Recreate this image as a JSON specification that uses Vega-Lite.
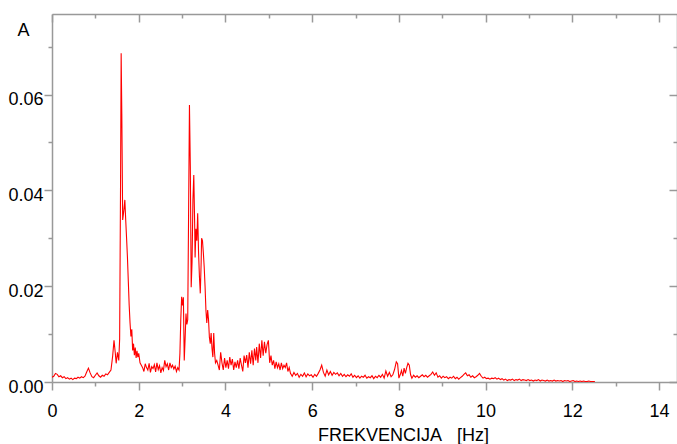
{
  "$schema": "https://vega.github.io/schema/vega-lite/v6.json",
  "autosize": "none",
  "width": 625,
  "height": 368,
  "padding": {"left": 52, "top": 14, "right": 0, "bottom": 62},
  "background": "white",
  "config": {"view": {"stroke": null}, "font": "Liberation Sans"},
  "data": {"values": [
    {"f":0.00,"a":0.0010},{"f":0.04,"a":0.0012},{"f":0.08,"a":0.0018},{"f":0.12,"a":0.0016},{"f":0.16,"a":0.0011},{"f":0.20,"a":0.0013},{"f":0.24,"a":0.0009},{"f":0.28,"a":0.0011},{"f":0.32,"a":0.0007},{"f":0.36,"a":0.0009},{"f":0.40,"a":0.0006},{"f":0.44,"a":0.0008},{"f":0.48,"a":0.0005},{"f":0.52,"a":0.0008},{"f":0.56,"a":0.0007},{"f":0.60,"a":0.0010},{"f":0.64,"a":0.0008},{"f":0.68,"a":0.0011},{"f":0.72,"a":0.0009},{"f":0.76,"a":0.0012},{"f":0.80,"a":0.0021},{"f":0.84,"a":0.0029},{"f":0.88,"a":0.0019},{"f":0.92,"a":0.0011},{"f":0.96,"a":0.0009},{"f":1.00,"a":0.0014},{"f":1.04,"a":0.0019},{"f":1.08,"a":0.0013},{"f":1.12,"a":0.0010},{"f":1.16,"a":0.0014},{"f":1.20,"a":0.0012},{"f":1.24,"a":0.0017},{"f":1.28,"a":0.0015},{"f":1.32,"a":0.0020},{"f":1.36,"a":0.0025},{"f":1.40,"a":0.0055},{"f":1.43,"a":0.0087},{"f":1.46,"a":0.0060},{"f":1.48,"a":0.0039},{"f":1.51,"a":0.0062},{"f":1.54,"a":0.0045},{"f":1.56,"a":0.0090},{"f":1.58,"a":0.0400},{"f":1.595,"a":0.0686},{"f":1.61,"a":0.0560},{"f":1.63,"a":0.0338},{"f":1.66,"a":0.0360},{"f":1.68,"a":0.0380},{"f":1.70,"a":0.0338},{"f":1.72,"a":0.0300},{"f":1.74,"a":0.0260},{"f":1.76,"a":0.0210},{"f":1.78,"a":0.0160},{"f":1.80,"a":0.0123},{"f":1.82,"a":0.0095},{"f":1.84,"a":0.0110},{"f":1.86,"a":0.0066},{"f":1.88,"a":0.0080},{"f":1.90,"a":0.0056},{"f":1.92,"a":0.0072},{"f":1.94,"a":0.0050},{"f":1.96,"a":0.0065},{"f":1.98,"a":0.0052},{"f":2.00,"a":0.0060},{"f":2.03,"a":0.0040},{"f":2.06,"a":0.0035},{"f":2.09,"a":0.0030},{"f":2.12,"a":0.0022},{"f":2.15,"a":0.0038},{"f":2.18,"a":0.0030},{"f":2.21,"a":0.0025},{"f":2.24,"a":0.0039},{"f":2.27,"a":0.0020},{"f":2.30,"a":0.0032},{"f":2.33,"a":0.0028},{"f":2.36,"a":0.0036},{"f":2.39,"a":0.0021},{"f":2.42,"a":0.0040},{"f":2.45,"a":0.0026},{"f":2.48,"a":0.0034},{"f":2.51,"a":0.0019},{"f":2.54,"a":0.0030},{"f":2.57,"a":0.0024},{"f":2.60,"a":0.0045},{"f":2.63,"a":0.0032},{"f":2.66,"a":0.0038},{"f":2.69,"a":0.0025},{"f":2.72,"a":0.0040},{"f":2.75,"a":0.0030},{"f":2.78,"a":0.0035},{"f":2.81,"a":0.0027},{"f":2.84,"a":0.0033},{"f":2.87,"a":0.0022},{"f":2.90,"a":0.0030},{"f":2.93,"a":0.0025},{"f":2.95,"a":0.0060},{"f":2.97,"a":0.0130},{"f":2.99,"a":0.0178},{"f":3.01,"a":0.0160},{"f":3.03,"a":0.0177},{"f":3.05,"a":0.0045},{"f":3.07,"a":0.0090},{"f":3.09,"a":0.0143},{"f":3.11,"a":0.0120},{"f":3.13,"a":0.0130},{"f":3.15,"a":0.0350},{"f":3.17,"a":0.0578},{"f":3.19,"a":0.0450},{"f":3.21,"a":0.0198},{"f":3.23,"a":0.0250},{"f":3.25,"a":0.0380},{"f":3.27,"a":0.0432},{"f":3.29,"a":0.0330},{"f":3.30,"a":0.0260},{"f":3.32,"a":0.0320},{"f":3.34,"a":0.0295},{"f":3.36,"a":0.0352},{"f":3.38,"a":0.0270},{"f":3.40,"a":0.0220},{"f":3.42,"a":0.0185},{"f":3.44,"a":0.0250},{"f":3.45,"a":0.0300},{"f":3.47,"a":0.0295},{"f":3.49,"a":0.0270},{"f":3.51,"a":0.0240},{"f":3.53,"a":0.0200},{"f":3.55,"a":0.0150},{"f":3.57,"a":0.0123},{"f":3.59,"a":0.0150},{"f":3.61,"a":0.0130},{"f":3.63,"a":0.0093},{"f":3.65,"a":0.0080},{"f":3.67,"a":0.0102},{"f":3.69,"a":0.0070},{"f":3.71,"a":0.0052},{"f":3.73,"a":0.0102},{"f":3.75,"a":0.0060},{"f":3.77,"a":0.0040},{"f":3.80,"a":0.0045},{"f":3.83,"a":0.0035},{"f":3.86,"a":0.0025},{"f":3.89,"a":0.0062},{"f":3.92,"a":0.0040},{"f":3.95,"a":0.0025},{"f":3.98,"a":0.0050},{"f":4.01,"a":0.0030},{"f":4.04,"a":0.0045},{"f":4.07,"a":0.0028},{"f":4.10,"a":0.0052},{"f":4.13,"a":0.0035},{"f":4.16,"a":0.0048},{"f":4.19,"a":0.0025},{"f":4.22,"a":0.0042},{"f":4.25,"a":0.0030},{"f":4.28,"a":0.0045},{"f":4.31,"a":0.0028},{"f":4.34,"a":0.0050},{"f":4.37,"a":0.0035},{"f":4.40,"a":0.0022},{"f":4.43,"a":0.0055},{"f":4.46,"a":0.0040},{"f":4.49,"a":0.0056},{"f":4.52,"a":0.0030},{"f":4.55,"a":0.0062},{"f":4.58,"a":0.0038},{"f":4.61,"a":0.0066},{"f":4.64,"a":0.0035},{"f":4.67,"a":0.0070},{"f":4.70,"a":0.0045},{"f":4.72,"a":0.0073},{"f":4.75,"a":0.0040},{"f":4.78,"a":0.0080},{"f":4.81,"a":0.0050},{"f":4.84,"a":0.0087},{"f":4.87,"a":0.0055},{"f":4.90,"a":0.0084},{"f":4.93,"a":0.0060},{"f":4.96,"a":0.0078},{"f":4.99,"a":0.0087},{"f":5.02,"a":0.0040},{"f":5.05,"a":0.0055},{"f":5.08,"a":0.0035},{"f":5.11,"a":0.0045},{"f":5.14,"a":0.0028},{"f":5.17,"a":0.0042},{"f":5.20,"a":0.0030},{"f":5.23,"a":0.0038},{"f":5.26,"a":0.0025},{"f":5.29,"a":0.0040},{"f":5.32,"a":0.0028},{"f":5.35,"a":0.0035},{"f":5.38,"a":0.0030},{"f":5.41,"a":0.0040},{"f":5.44,"a":0.0022},{"f":5.47,"a":0.0030},{"f":5.50,"a":0.0018},{"f":5.54,"a":0.0012},{"f":5.58,"a":0.0020},{"f":5.62,"a":0.0014},{"f":5.66,"a":0.0018},{"f":5.70,"a":0.0010},{"f":5.74,"a":0.0016},{"f":5.78,"a":0.0012},{"f":5.82,"a":0.0019},{"f":5.86,"a":0.0011},{"f":5.90,"a":0.0017},{"f":5.94,"a":0.0013},{"f":5.98,"a":0.0015},{"f":6.02,"a":0.0010},{"f":6.06,"a":0.0016},{"f":6.10,"a":0.0012},{"f":6.14,"a":0.0018},{"f":6.18,"a":0.0025},{"f":6.22,"a":0.0035},{"f":6.26,"a":0.0020},{"f":6.30,"a":0.0012},{"f":6.34,"a":0.0025},{"f":6.38,"a":0.0015},{"f":6.42,"a":0.0022},{"f":6.46,"a":0.0014},{"f":6.50,"a":0.0020},{"f":6.54,"a":0.0016},{"f":6.58,"a":0.0019},{"f":6.62,"a":0.0013},{"f":6.66,"a":0.0018},{"f":6.70,"a":0.0012},{"f":6.74,"a":0.0016},{"f":6.78,"a":0.0011},{"f":6.82,"a":0.0015},{"f":6.86,"a":0.0012},{"f":6.90,"a":0.0017},{"f":6.94,"a":0.0010},{"f":6.98,"a":0.0014},{"f":7.02,"a":0.0009},{"f":7.06,"a":0.0013},{"f":7.10,"a":0.0008},{"f":7.14,"a":0.0012},{"f":7.18,"a":0.0010},{"f":7.22,"a":0.0014},{"f":7.26,"a":0.0008},{"f":7.30,"a":0.0011},{"f":7.34,"a":0.0009},{"f":7.38,"a":0.0013},{"f":7.42,"a":0.0007},{"f":7.46,"a":0.0012},{"f":7.50,"a":0.0009},{"f":7.54,"a":0.0014},{"f":7.58,"a":0.0010},{"f":7.62,"a":0.0016},{"f":7.66,"a":0.0008},{"f":7.70,"a":0.0023},{"f":7.74,"a":0.0012},{"f":7.78,"a":0.0020},{"f":7.82,"a":0.0011},{"f":7.86,"a":0.0015},{"f":7.90,"a":0.0026},{"f":7.94,"a":0.0042},{"f":7.97,"a":0.0038},{"f":8.00,"a":0.0008},{"f":8.03,"a":0.0015},{"f":8.06,"a":0.0024},{"f":8.09,"a":0.0012},{"f":8.12,"a":0.0029},{"f":8.15,"a":0.0018},{"f":8.18,"a":0.0030},{"f":8.21,"a":0.0039},{"f":8.24,"a":0.0035},{"f":8.27,"a":0.0015},{"f":8.30,"a":0.0008},{"f":8.34,"a":0.0014},{"f":8.38,"a":0.0010},{"f":8.42,"a":0.0013},{"f":8.46,"a":0.0009},{"f":8.50,"a":0.0012},{"f":8.54,"a":0.0015},{"f":8.58,"a":0.0011},{"f":8.62,"a":0.0014},{"f":8.66,"a":0.0010},{"f":8.70,"a":0.0013},{"f":8.74,"a":0.0016},{"f":8.78,"a":0.0021},{"f":8.82,"a":0.0014},{"f":8.86,"a":0.0019},{"f":8.90,"a":0.0010},{"f":8.94,"a":0.0013},{"f":8.98,"a":0.0008},{"f":9.02,"a":0.0012},{"f":9.06,"a":0.0009},{"f":9.10,"a":0.0011},{"f":9.14,"a":0.0007},{"f":9.18,"a":0.0010},{"f":9.22,"a":0.0008},{"f":9.26,"a":0.0012},{"f":9.30,"a":0.0007},{"f":9.34,"a":0.0010},{"f":9.38,"a":0.0006},{"f":9.42,"a":0.0009},{"f":9.46,"a":0.0012},{"f":9.50,"a":0.0016},{"f":9.54,"a":0.0019},{"f":9.58,"a":0.0013},{"f":9.62,"a":0.0015},{"f":9.66,"a":0.0010},{"f":9.70,"a":0.0013},{"f":9.74,"a":0.0009},{"f":9.78,"a":0.0011},{"f":9.82,"a":0.0014},{"f":9.86,"a":0.0018},{"f":9.90,"a":0.0012},{"f":9.94,"a":0.0008},{"f":9.98,"a":0.0010},{"f":10.02,"a":0.0007},{"f":10.06,"a":0.0008},{"f":10.10,"a":0.0006},{"f":10.14,"a":0.0008},{"f":10.18,"a":0.0007},{"f":10.22,"a":0.0009},{"f":10.26,"a":0.0006},{"f":10.30,"a":0.0008},{"f":10.34,"a":0.0005},{"f":10.38,"a":0.0007},{"f":10.42,"a":0.0004},{"f":10.46,"a":0.0006},{"f":10.50,"a":0.0003},{"f":10.54,"a":0.0005},{"f":10.58,"a":0.0004},{"f":10.62,"a":0.0006},{"f":10.66,"a":0.0003},{"f":10.70,"a":0.0005},{"f":10.74,"a":0.0004},{"f":10.78,"a":0.0006},{"f":10.82,"a":0.0003},{"f":10.86,"a":0.0005},{"f":10.90,"a":0.0004},{"f":10.94,"a":0.0003},{"f":10.98,"a":0.0005},{"f":11.02,"a":0.0003},{"f":11.06,"a":0.0004},{"f":11.10,"a":0.0002},{"f":11.14,"a":0.0004},{"f":11.18,"a":0.0003},{"f":11.22,"a":0.0005},{"f":11.26,"a":0.0002},{"f":11.30,"a":0.0004},{"f":11.34,"a":0.0003},{"f":11.38,"a":0.0002},{"f":11.42,"a":0.0004},{"f":11.46,"a":0.0002},{"f":11.50,"a":0.0003},{"f":11.54,"a":0.0002},{"f":11.58,"a":0.0004},{"f":11.62,"a":0.0002},{"f":11.66,"a":0.0003},{"f":11.70,"a":0.0002},{"f":11.74,"a":0.0003},{"f":11.78,"a":0.0001},{"f":11.82,"a":0.0003},{"f":11.86,"a":0.0002},{"f":11.90,"a":0.0003},{"f":11.94,"a":0.0001},{"f":11.98,"a":0.0002},{"f":12.02,"a":0.0003},{"f":12.06,"a":0.0001},{"f":12.10,"a":0.0002},{"f":12.14,"a":0.0001},{"f":12.18,"a":0.0002},{"f":12.22,"a":0.0001},{"f":12.26,"a":0.0002},{"f":12.30,"a":0.0001},{"f":12.34,"a":0.0001},{"f":12.38,"a":0.0002},{"f":12.42,"a":0.0001},{"f":12.46,"a":0.0001},{"f":12.50,"a":0.0001},{"f":12.52,"a":0.0001}
  ]},
  "layer": [
    {
      "mark": {"type": "line", "color": "#ff0000", "strokeWidth": 1.1, "clip": true},
      "encoding": {
        "x": {"field": "f", "type": "quantitative",
          "scale": {"domain": [0, 14.414], "nice": false, "zero": false},
          "axis": {
            "orient": "bottom", "values": [0,1,2,3,4,5,6,7,8,9,10,11,12,13,14],
            "grid": false, "domainColor": "#999999", "domainWidth": 1.5,
            "tickColor": "#999999", "tickWidth": 1.5,
            "tickSize": {"condition": {"test": "datum.value % 2 === 0", "value": 8}, "value": 4},
            "labelExpr": "datum.value % 2 === 0 ? datum.label : ''",
            "labelFont": "Liberation Sans", "labelFontSize": 18, "labelColor": "#000000", "labelPadding": 12,
            "labelFlush": false, "labelOverlap": false,
            "title": "FREKVENCIJA\u00a0\u00a0 [Hz]", "titleFont": "Liberation Sans", "titleFontSize": 18,
            "titleFontWeight": "normal", "titleColor": "#000000",
            "titleX": 351, "titleY": 58, "titleBaseline": "alphabetic", "titleAlign": "center", "titleAnchor": null
          }
        },
        "y": {"field": "a", "type": "quantitative",
          "scale": {"domain": [0, 0.0768], "nice": false, "zero": true},
          "axis": {
            "orient": "left", "values": [0,0.01,0.02,0.03,0.04,0.05,0.06,0.07],
            "grid": false, "domainColor": "#999999", "domainWidth": 1.5,
            "tickColor": "#999999", "tickWidth": 1.5,
            "tickSize": {"condition": {"test": "round(datum.value*100) % 2 === 0", "value": 8}, "value": 4},
            "format": ".2f",
            "labelExpr": "round(datum.value*100) % 2 === 0 ? datum.label : ''",
            "labelFont": "Liberation Sans", "labelFontSize": 18, "labelColor": "#000000", "labelPadding": 1,
            "labelOffset": 5, "labelBaseline": "middle",
            "labelFlush": false, "labelOverlap": false,
            "title": "A", "titleFont": "Liberation Sans", "titleFontSize": 18, "titleFontWeight": "normal",
            "titleColor": "#000000", "titleAngle": 0, "titleX": -29, "titleY": 21,
            "titleBaseline": "alphabetic", "titleAlign": "center", "titleAnchor": null
          }
        }
      }
    },
    {
      "mark": {"type": "line", "strokeOpacity": 0},
      "encoding": {
        "x": {"field": "f", "type": "quantitative",
          "axis": {
            "orient": "top", "values": [0,1,2,3,4,5,6,7,8,9,10,11,12,13,14],
            "grid": false, "domainColor": "#999999", "domainWidth": 1.5,
            "tickColor": "#999999", "tickWidth": 1.5,
            "tickSize": {"condition": {"test": "datum.value % 2 === 0", "value": -8}, "value": -4},
            "labels": false, "title": null
          }
        },
        "y": {"field": "a", "type": "quantitative",
          "axis": {
            "orient": "right", "values": [0,0.01,0.02,0.03,0.04,0.05,0.06,0.07],
            "grid": false, "domainColor": "#999999", "domainWidth": 1.5,
            "tickColor": "#999999", "tickWidth": 1.5,
            "tickSize": {"condition": {"test": "round(datum.value*100) % 2 === 0", "value": -8}, "value": -4},
            "labels": false, "title": null
          }
        }
      }
    }
  ]
}
